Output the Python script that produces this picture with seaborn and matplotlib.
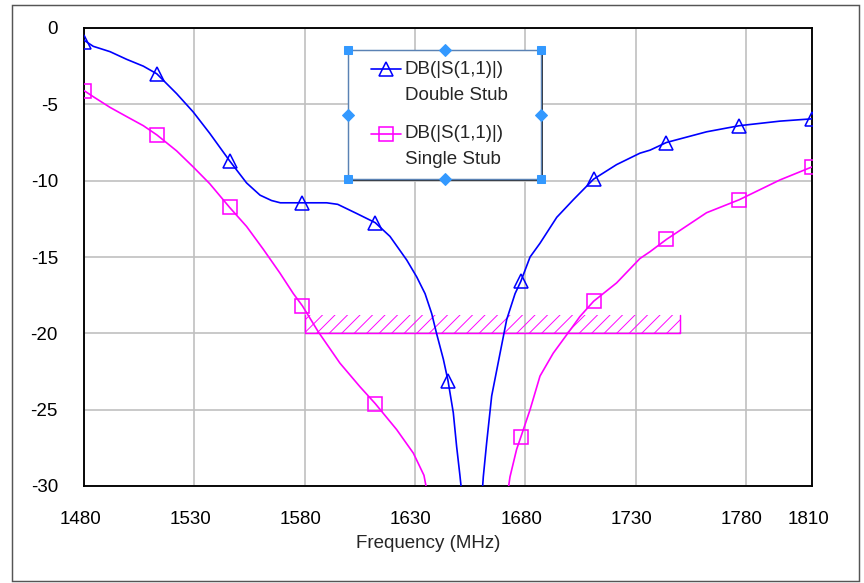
import matplotlib
matplotlib.use("Agg")
import matplotlib.pyplot as plt
import seaborn as sns
from matplotlib.patches import Rectangle
from matplotlib.lines import Line2D
from matplotlib.transforms import ScaledTranslation

# ---------------- data ----------------
double_freq = [1480, 1484.2, 1491.8, 1499.3, 1506.9, 1513, 1522, 1529.5, 1537, 1546,
               1553.7, 1559.8, 1565, 1569, 1579, 1590, 1595, 1603.6, 1612, 1618.7,
               1626.3, 1630.8, 1634.6, 1637.6, 1639.8, 1642.9, 1645, 1647.4, 1648.9,
               1650.4, 1652, 1656, 1660, 1661, 1662.5, 1664.8, 1668.6, 1671.6, 1675.4,
               1678, 1682.2, 1686.7, 1694.3, 1701.8, 1711, 1721.4, 1732, 1736.6, 1744,
               1762.2, 1777, 1795.5, 1810]
double_db = [-0.8, -1.2, -1.55, -2.05, -2.5, -3.0, -4.3, -5.5, -6.9, -8.7,
             -10.15, -10.95, -11.3, -11.45, -11.45, -11.45, -11.55, -12.15, -12.75, -13.65,
             -15.2, -16.3, -17.4, -18.7, -20.0, -21.7, -23.1, -25.2, -27.4,
             -29.3, -31.5, -40.0, -31.5, -29.4, -27.2, -24.1, -21.3, -19.1, -17.4,
             -16.6, -15.0, -14.1, -12.4, -11.25, -9.9, -8.95, -8.2, -8.0, -7.5,
             -6.8, -6.4, -6.1, -5.95]

single_freq = [1480, 1484.2, 1491.8, 1499.3, 1506.9, 1513, 1522, 1529.5, 1537, 1546,
               1553.7, 1561.3, 1568.8, 1574.9, 1579, 1586.2, 1596, 1605.1, 1612, 1621.7,
               1629.3, 1634.1, 1637, 1654, 1671, 1673.1, 1676.1, 1678, 1682.2, 1686.7,
               1692.7, 1700.3, 1704.8, 1711, 1721.4, 1732, 1736.6, 1744, 1762.2, 1777,
               1795.5, 1810]
single_db = [-4.1, -4.5, -5.2, -5.8, -6.4, -7.0, -8.05, -9.1, -10.2, -11.75,
             -13.0, -14.5, -16.05, -17.4, -18.2, -19.9, -21.95, -23.5, -24.6, -26.3,
             -27.85, -29.3, -31.5, -40.0, -31.5, -29.4, -27.6, -26.8, -25.0, -22.8,
             -21.3, -19.8, -18.9, -17.9, -16.7, -15.1, -14.65, -13.85, -12.1, -11.25,
             -9.95, -9.1]

double_marker_freq = [1480, 1513, 1546, 1579, 1612, 1645, 1678, 1711, 1744, 1777, 1810]
double_marker_db = [-0.9, -3.0, -8.7, -11.45, -12.75, -23.1, -16.6, -9.9, -7.5, -6.4, -5.95]
single_marker_freq = [1480, 1513, 1546, 1579, 1612, 1678, 1711, 1744, 1777, 1810]
single_marker_db = [-4.1, -7.0, -11.75, -18.2, -24.6, -26.8, -17.9, -13.85, -11.25, -9.1]

band_freq = [1580, 1750]
band_low = -20.0
band_high = -18.8

x_ticks = [1480, 1530, 1580, 1630, 1680, 1730, 1780, 1810]
x_tick_labels = ["1480", "1530", "1580", "1630", "1680", "1730", "1780", "1810"]
y_ticks = [0, -5, -10, -15, -20, -25, -30]
y_tick_labels = ["0", "-5", "-10", "-15", "-20", "-25", "-30"]
x_label = "Frequency (MHz)"
legend_lines = [["DB(|S(1,1)|)", "Double Stub"], ["DB(|S(1,1)|)", "Single Stub"]]

BLUE = "#0000ff"
PINK = "#ff00ff"

# ---------------- style ----------------
sns.set_style("white")
plt.rcParams["font.family"] = ["Liberation Sans", "DejaVu Sans"]
plt.rcParams["axes.unicode_minus"] = False
plt.rcParams["hatch.linewidth"] = 0.9

FS = 18

W, H, DPI = 864, 583, 75
fig = plt.figure(figsize=(W / DPI, H / DPI), dpi=DPI, facecolor="white")


def fx(px):
    return px / W


def fy(py):
    return 1 - py / H


L, T, R, B = 84, 28, 812, 486
ax = fig.add_axes([fx(L), fy(B), (R - L) / W, (B - T) / H])
ax.set_facecolor("white")

# hatched band
ax.fill_between(band_freq, [band_low] * 2, [band_high] * 2, facecolor="none",
                edgecolor=PINK, hatch="//", linewidth=0, zorder=2)
ax.plot([band_freq[0], band_freq[0], band_freq[1], band_freq[1]],
        [band_high, band_low, band_low, band_high], color=PINK, lw=1.4, zorder=2)

# curves
sns.lineplot(x=single_freq, y=single_db, ax=ax, color=PINK, linewidth=1.6,
             sort=False, estimator=None, legend=False, zorder=3)
sns.lineplot(x=double_freq, y=double_db, ax=ax, color=BLUE, linewidth=1.6,
             sort=False, estimator=None, legend=False, zorder=4)
sns.lineplot(x=single_marker_freq, y=single_marker_db, ax=ax, linestyle="none",
             marker="s", markersize=12.5, markerfacecolor="none", markeredgecolor=PINK,
             markeredgewidth=1.5, color=PINK, sort=False, estimator=None, legend=False, zorder=5)
sns.lineplot(x=double_marker_freq, y=double_marker_db, ax=ax, linestyle="none",
             marker="^", markersize=12.5, markerfacecolor="none", markeredgecolor=BLUE,
             markeredgewidth=1.5, color=BLUE, sort=False, estimator=None, legend=False, zorder=6)

ax.set_xlim(1480, 1810)
ax.set_ylim(-30, 0)
ax.set_xticks(x_ticks)
ax.set_xticklabels(x_tick_labels)
ax.set_yticks(y_ticks)
ax.set_yticklabels(y_tick_labels)
ax.tick_params(axis="both", length=0, labelsize=FS, colors="black")
ax.tick_params(axis="x", pad=24)
ax.tick_params(axis="y", pad=25)
shift = ScaledTranslation(-4 / DPI, 0, fig.dpi_scale_trans)
for lab in ax.get_xticklabels():
    lab.set_transform(lab.get_transform() + shift)
ax.grid(True, color="#c0c0c0", linewidth=1.6, zorder=0)
ax.set_axisbelow(True)
for sp in ax.spines.values():
    sp.set_color("black")
    sp.set_linewidth(1.8)
    sp.set_visible(True)

ax.set_xlabel(x_label, fontsize=FS)
ax.xaxis.set_label_coords((428 - L) / (R - L), -(535 - B) / (B - T))
ax.set_ylabel("")

# outer frame
fig.add_artist(Rectangle((fx(12), fy(581)), fx(859) - fx(12), fy(5) - fy(581),
                         transform=fig.transFigure, facecolor="none",
                         edgecolor="#555555", linewidth=1.4, zorder=1))

# legend box (with shadow and selection handles)
lx0, ly0, lx1, ly1 = 348, 50, 541, 179
fig.add_artist(Rectangle((fx(lx0 + 2), fy(ly1 + 2)), fx(lx1) - fx(lx0), fy(ly0) - fy(ly1),
                         transform=fig.transFigure, facecolor="#303030",
                         edgecolor="none", zorder=10))
fig.add_artist(Rectangle((fx(lx0), fy(ly1)), fx(lx1) - fx(lx0), fy(ly0) - fy(ly1),
                         transform=fig.transFigure, facecolor="white",
                         edgecolor="#5a82b4", linewidth=1.4, zorder=11))

entry_styles = [(BLUE, "^", 68.5, 70, 96), (PINK, "s", 134, 134, 160)]
for (col, mk, hy, t1, t2), lines in zip(entry_styles, legend_lines):
    fig.add_artist(Line2D([fx(371), fx(401)], [fy(hy), fy(hy)], color=col, lw=1.6,
                          transform=fig.transFigure, zorder=12))
    fig.add_artist(Line2D([fx(386)], [fy(hy)], marker=mk, markersize=12.5,
                          markerfacecolor="none", markeredgecolor=col, markeredgewidth=1.5,
                          linestyle="none", transform=fig.transFigure, zorder=12))
    fig.text(fx(405), fy(t1), lines[0], fontsize=FS, va="center", ha="left", zorder=12)
    fig.text(fx(405), fy(t2), lines[1], fontsize=FS, va="center", ha="left", zorder=12)

HANDLE = "#3399ff"
mx, my = (lx0 + lx1) / 2, (ly0 + ly1) / 2
for px, py in [(lx0, ly0), (lx1, ly0), (lx0, ly1), (lx1, ly1)]:
    fig.add_artist(Line2D([fx(px)], [fy(py)], marker="s", markersize=8.5, color=HANDLE,
                          markeredgecolor=HANDLE, linestyle="none",
                          transform=fig.transFigure, zorder=13))
for px, py in [(mx, ly0), (mx, ly1), (lx0, my), (lx1, my)]:
    fig.add_artist(Line2D([fx(px)], [fy(py)], marker="D", markersize=7.5, color=HANDLE,
                          markeredgecolor=HANDLE, linestyle="none",
                          transform=fig.transFigure, zorder=13))

fig.savefig("out.png", dpi=DPI, facecolor="white")
